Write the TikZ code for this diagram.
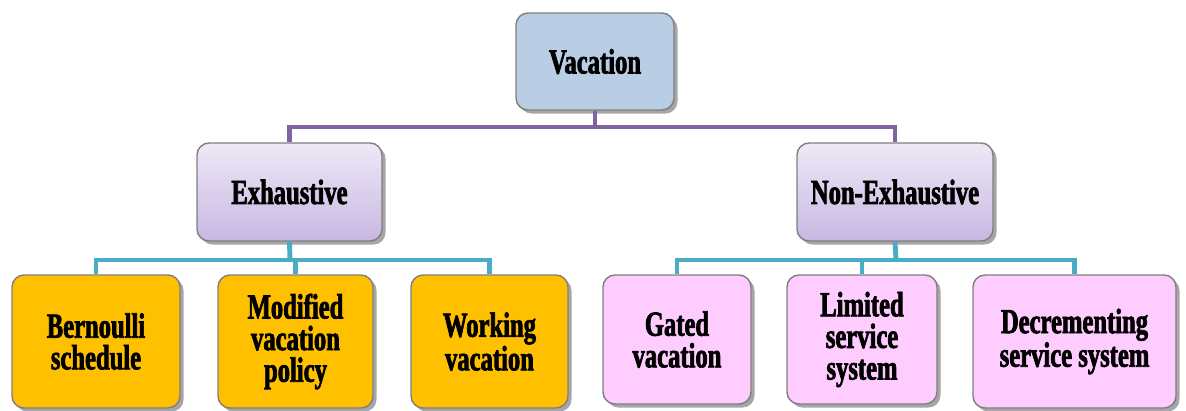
\documentclass[tikz,border=0pt]{standalone}
\usepackage{fontspec}
\newfontfamily\labfont[FakeStretch=0.70,FakeBold=2]{Liberation Serif}
\usetikzlibrary{shadows}
\definecolor{vacblue}{HTML}{B9CDE5}
\definecolor{lavtop}{HTML}{EEE8F6}
\definecolor{lavbot}{HTML}{C8B8E2}
\definecolor{orangebox}{HTML}{FFC000}
\definecolor{pinkbox}{HTML}{FFCCFF}
\definecolor{purpline}{HTML}{8064A2}
\definecolor{blueline}{HTML}{4BACC6}
\definecolor{boxborder}{HTML}{7F7F7F}
\def\pxu{0.025cm}
\tikzset{
  box/.style={draw=boxborder, line width=1pt, rounded corners=0.3cm, align=center,
    inner sep=0pt, font=\labfont\bfseries\fontsize{25}{22.5}\selectfont,
    drop shadow={shadow xshift=2.5pt, shadow yshift=-2.5pt, opacity=0.35, fill=black}},
  topbox/.style={box, fill=vacblue},
  midbox/.style={box, top color=lavtop, bottom color=lavbot},
  orbox/.style={box, fill=orangebox},
  pkbox/.style={box, fill=pinkbox},
  purp/.style={draw=purpline, line width=3.5pt},
  blu/.style={draw=blueline, line width=3.5pt},
}
\begin{document}
\begin{tikzpicture}[x=0.025cm, y=-0.025cm]
\useasboundingbox (0,0) rectangle (1186,410);
\coordinate (pj) at (595,127);
\coordinate (ej) at (290,260);
\coordinate (nj) at (896,260);
\node[topbox, minimum width=158*\pxu, minimum height=97*\pxu] (vac) at (595,61.5) {Vacation};
\node[midbox, minimum width=185*\pxu, minimum height=98*\pxu] (exh) at (289.5,192) {Exhaustive};
\node[midbox, minimum width=196*\pxu, minimum height=98*\pxu] (nex) at (895,192) {Non-Exhaustive};
\node[orbox, minimum width=168*\pxu, minimum height=133*\pxu] (bern) at (96,341.5) {Bernoulli\\schedule};
\node[orbox, minimum width=155*\pxu, minimum height=133*\pxu] (mod) at (295.5,341.5) {Modified\\vacation\\policy};
\node[orbox, minimum width=157*\pxu, minimum height=133*\pxu] (work) at (489.5,341.5) {Working\\vacation};
\node[pkbox, minimum width=148*\pxu, minimum height=129*\pxu] (gat) at (677,339.5) {Gated\\vacation};
\node[pkbox, minimum width=150*\pxu, minimum height=129*\pxu] (lim) at (862,339.5) {Limited\\service\\system};
\node[pkbox, minimum width=203*\pxu, minimum height=133*\pxu] (dec) at (1074.5,341.5) {Decrementing\\service system};
\draw[purp] (vac.south) -- (pj);
\draw[purp] (pj) -| (exh.north);
\draw[purp] (pj) -| (nex.north);
\draw[blu] (exh.south) -- (ej);
\draw[blu] (ej) -| (bern.north);
\draw[blu] (ej) -| (mod.north);
\draw[blu] (ej) -| (work.north);
\draw[blu] (nex.south) -- (nj);
\draw[blu] (nj) -| (gat.north);
\draw[blu] (nj) -| (lim.north);
\draw[blu] (nj) -| (dec.north);
\end{tikzpicture}
\end{document}
